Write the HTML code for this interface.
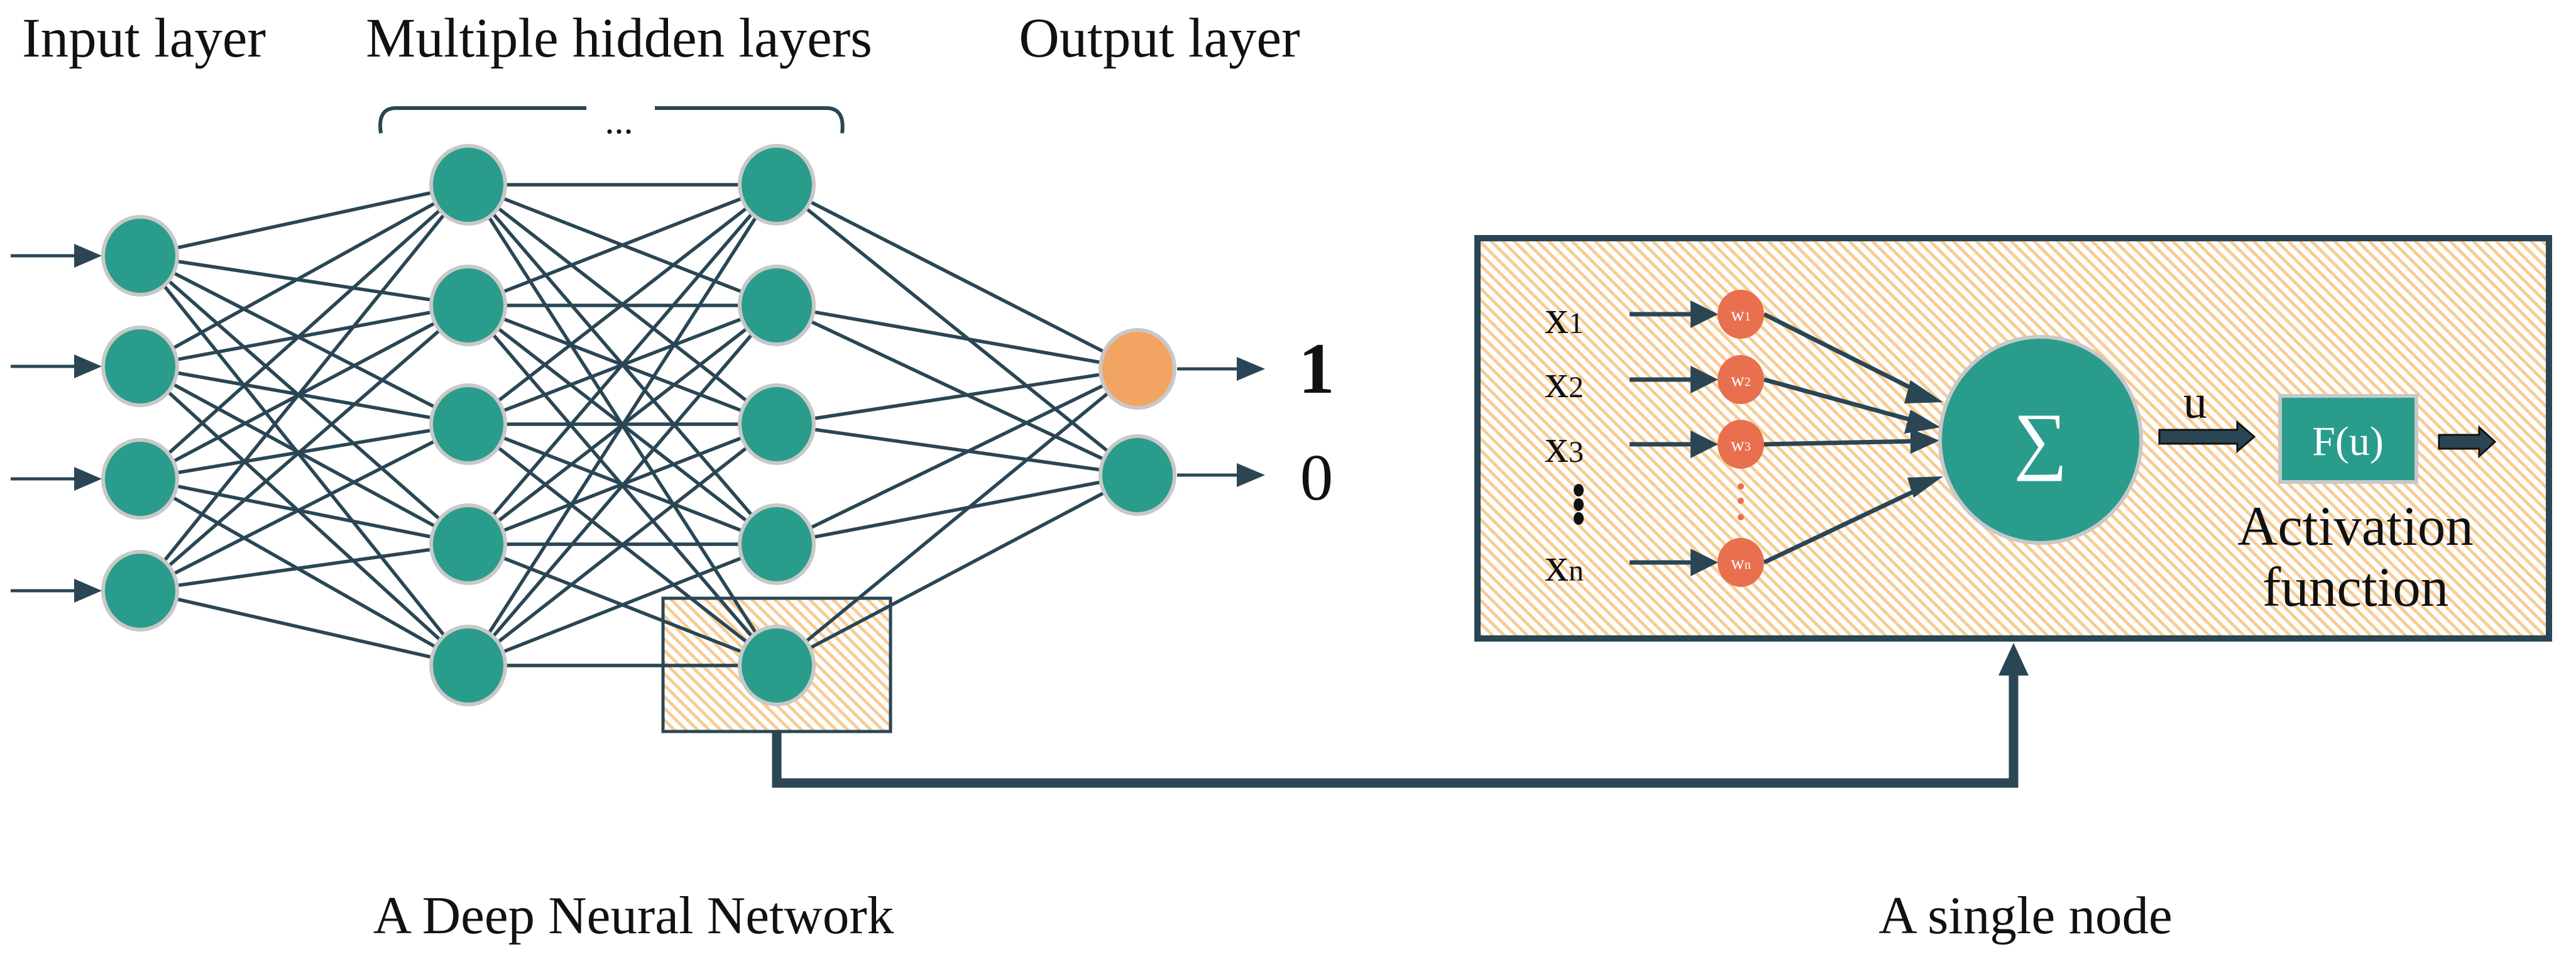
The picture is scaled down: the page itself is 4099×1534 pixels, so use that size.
<!DOCTYPE html>
<html><head><meta charset="utf-8"><style>
html,body{margin:0;padding:0;background:#fff;}
svg{display:block;}
text{font-family:"Liberation Serif",serif;fill:#111;}
</style></head><body>
<svg width="4099" height="1534" viewBox="0 0 4099 1534" xmlns="http://www.w3.org/2000/svg">
<defs>
<pattern id="hatch" patternUnits="userSpaceOnUse" width="13" height="13" patternTransform="rotate(-45)">
<rect width="13" height="13" fill="#fff"/>
<rect x="0" y="0" width="5" height="13" fill="#f7cc95"/>
</pattern>
</defs>
<!-- highlight box -->
<rect x="1055" y="952" width="362" height="212" fill="url(#hatch)" stroke="#2a4654" stroke-width="5"/>
<g id="lines" stroke="#2a4654" stroke-width="5.5"></g>
<g id="nodes"></g>
<script>
const NS="http://www.w3.org/2000/svg";
const L0=[[223,407],[223,583],[223,762],[223,940]];
const ys=[294,486,675,866,1059];
const L1=ys.map(y=>[745,y]),L2=ys.map(y=>[1236,y]);
const L3=[[1810,587],[1810,756]];
const g=document.getElementById('lines'),n=document.getElementById('nodes');
function ln(a,b){const l=document.createElementNS(NS,'line');l.setAttribute('x1',a[0]);l.setAttribute('y1',a[1]);l.setAttribute('x2',b[0]);l.setAttribute('y2',b[1]);g.appendChild(l);}
[[L0,L1],[L1,L2],[L2,L3]].forEach(([A,B])=>A.forEach(a=>B.forEach(b=>ln(a,b))));
function nd(p,c){const e=document.createElementNS(NS,'ellipse');e.setAttribute('cx',p[0]);e.setAttribute('cy',p[1]);e.setAttribute('rx',59);e.setAttribute('ry',62);e.setAttribute('fill',c);e.setAttribute('stroke','#c8c8c8');e.setAttribute('stroke-width','6');n.appendChild(e);}
L0.concat(L1,L2).forEach(p=>nd(p,'#2a9c8c'));nd(L3[0],'#f2a462');nd(L3[1],'#2a9c8c');
</script>
<!-- input arrows -->
<g stroke="#2a4654" stroke-width="5">
<line x1="17" y1="407" x2="125" y2="407"/><line x1="17" y1="583" x2="125" y2="583"/>
<line x1="17" y1="762" x2="125" y2="762"/><line x1="17" y1="940" x2="125" y2="940"/>
<line x1="1873" y1="587" x2="1970" y2="587"/><line x1="1873" y1="756" x2="1970" y2="756"/>
</g>
<g fill="#2a4654">
<path d="M118,388 L162,407 L118,426 z"/><path d="M118,564 L162,583 L118,602 z"/>
<path d="M118,743 L162,762 L118,781 z"/><path d="M118,921 L162,940 L118,959 z"/>
<path d="M1968,568 L2013,587 L1968,606 z"/><path d="M1968,737 L2013,756 L1968,775 z"/>
</g>
<!-- bracket -->
<path d="M606,212 Q600,172 630,172 L933,172 M1042,172 L1315,172 Q1345,172 1340,212" stroke="#2a4654" stroke-width="6" fill="none"/>
<text x="985" y="212" font-size="60" text-anchor="middle">...</text>
<!-- titles -->
<text x="35" y="90" font-size="89">Input layer</text>
<text x="985" y="90" font-size="89" text-anchor="middle">Multiple hidden layers</text>
<text x="1845" y="90" font-size="89" text-anchor="middle">Output layer</text>
<text x="2095" y="625" font-size="115" text-anchor="middle" font-weight="bold">1</text>
<text x="2095" y="795" font-size="105" text-anchor="middle">0</text>
<text x="1008" y="1485" font-size="85" text-anchor="middle">A Deep Neural Network</text>
<text x="3223" y="1485" font-size="85" text-anchor="middle">A single node</text>
<!-- connector -->
<path d="M1236,1164 L1236,1246 L3204,1246 L3204,1070" stroke="#2a4654" stroke-width="15" fill="none"/>
<path d="M3180,1075 L3204,1023 L3228,1075 z" fill="#2a4654"/>
<!-- single node box -->
<rect x="2351" y="379" width="1705" height="637" fill="url(#hatch)" stroke="#2a4654" stroke-width="10"/>
<g font-size="76">
<text x="2489" y="530" text-anchor="middle">x<tspan font-size="48">1</tspan></text>
<text x="2489" y="632" text-anchor="middle">x<tspan font-size="48">2</tspan></text>
<text x="2489" y="735" text-anchor="middle">x<tspan font-size="48">3</tspan></text>
<text x="2489" y="924" text-anchor="middle">x<tspan font-size="48">n</tspan></text>
</g>
<g fill="#111"><ellipse cx="2512" cy="780" rx="8" ry="10"/><ellipse cx="2512" cy="803" rx="8" ry="10"/><ellipse cx="2512" cy="825" rx="8" ry="10"/></g>
<g stroke="#2a4654" stroke-width="7">
<line x1="2593" y1="500" x2="2700" y2="500"/><line x1="2593" y1="604" x2="2700" y2="604"/>
<line x1="2593" y1="707" x2="2700" y2="707"/><line x1="2593" y1="895" x2="2700" y2="895"/>
<line x1="2807" y1="500" x2="3060" y2="627"/><line x1="2807" y1="604" x2="3055" y2="672"/>
<line x1="2807" y1="707" x2="3050" y2="702"/><line x1="2807" y1="895" x2="3060" y2="775"/>
</g>
<g fill="#2a4654">
<path d="M2690,478 L2734,500 L2690,522 z"/><path d="M2690,582 L2734,604 L2690,626 z"/>
<path d="M2690,685 L2734,707 L2690,729 z"/><path d="M2690,873 L2734,895 L2690,917 z"/>
<path d="M3040,605 L3092,640 L3030,642 z"/><path d="M3040,652 L3088,680 L3030,690 z"/>
<path d="M3040,682 L3086,701 L3040,722 z"/><path d="M3035,760 L3092,758 L3045,792 z"/>
</g>
<g fill="#e8704f">
<ellipse cx="2770" cy="500" rx="37" ry="39"/><ellipse cx="2770" cy="604" rx="37" ry="39"/>
<ellipse cx="2770" cy="707" rx="37" ry="39"/><ellipse cx="2770" cy="895" rx="37" ry="39"/>
<circle cx="2770" cy="774" r="5"/><circle cx="2770" cy="797" r="5"/><circle cx="2770" cy="823" r="5"/>
</g>
<g font-size="30" text-anchor="middle">
<text x="2770" y="510" style="fill:#fff">w<tspan font-size="20">1</tspan></text>
<text x="2770" y="614" style="fill:#fff">w<tspan font-size="20">2</tspan></text>
<text x="2770" y="717" style="fill:#fff">w<tspan font-size="20">3</tspan></text>
<text x="2770" y="905" style="fill:#fff">w<tspan font-size="20">n</tspan></text>
</g>
<ellipse cx="3247" cy="700" rx="160" ry="164" fill="#2a9c8c" stroke="#c8c8c8" stroke-width="6"/>
<text x="3247" y="740" font-size="120" text-anchor="middle" style="fill:#fff">∑</text>
<text x="3493" y="665" font-size="76" text-anchor="middle">u</text>
<path d="M3436,684 L3560,684 L3560,672 L3587,695 L3560,718 L3560,706 L3436,706 z" fill="#2a4654" stroke="#111" stroke-width="3"/>
<rect x="3628" y="630" width="217" height="137" fill="#2a9c8c" stroke="#c8c8c8" stroke-width="6"/>
<text x="3736" y="724" font-size="66" text-anchor="middle" style="fill:#fff">F(u)</text>
<path d="M3881,692 L3945,692 L3945,680 L3970,703 L3945,726 L3945,714 L3881,714 z" fill="#2a4654" stroke="#111" stroke-width="3"/>
<text x="3748" y="867" font-size="89" text-anchor="middle">Activation</text>
<text x="3748" y="964" font-size="89" text-anchor="middle">function</text>
</svg>
</body></html>
